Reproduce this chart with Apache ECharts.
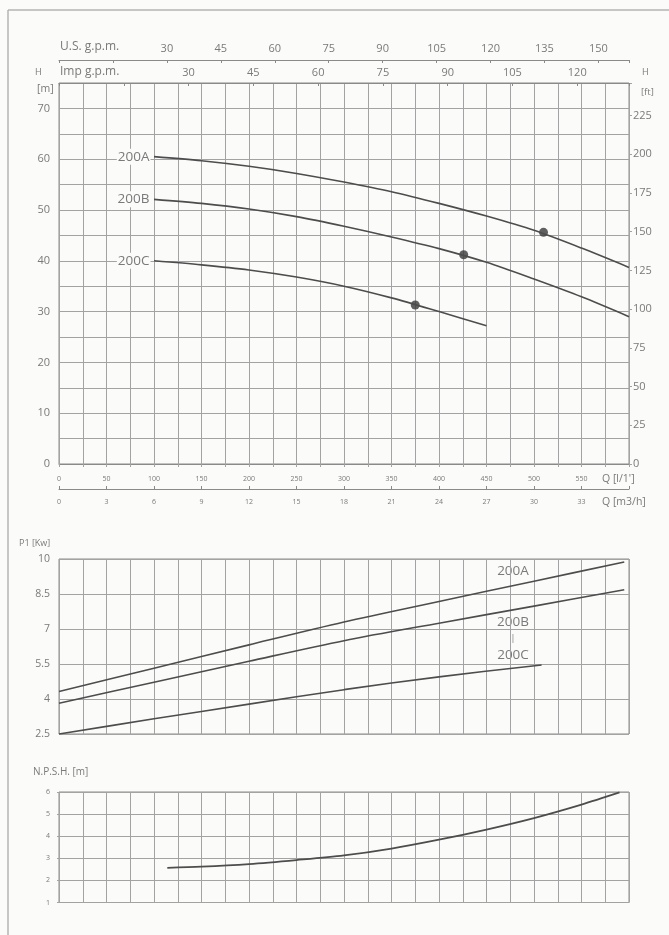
<!DOCTYPE html>
<html>
<head>
<meta charset="utf-8">
<script src="https://cdn.jsdelivr.net/npm/echarts@6/dist/echarts.min.js"></script>
<style>
  html, body { margin: 0; padding: 0; background: #fbfbfa; }
  #chart { width: 669px; height: 935px; }
</style>
</head>
<body>
<div id="chart"></div>
<script>
// Pump performance curves, models 200A / 200B / 200C
// Flow Q in l/min, head H in m, absorbed power P1 in kW, NPSH in m.

const models = ['200A', '200B', '200C'];

// Head curves [Q l/min, H m]
const head200A = [[100, 60.5], [150, 59.7], [200, 58.6], [250, 57.2], [300, 55.5], [350, 53.6], [400, 51.3], [450, 48.8], [500, 46.0], [550, 42.5], [600, 38.7]];
const head200B = [[100, 52.1], [150, 51.3], [200, 50.2], [250, 48.7], [300, 46.8], [350, 44.7], [400, 42.4], [450, 39.7], [500, 36.4], [550, 32.9], [600, 29.0]];
const head200C = [[100, 40.0], [150, 39.2], [200, 38.2], [250, 36.8], [300, 35.0], [350, 32.7], [400, 30.0], [450, 27.2]];

// Rated duty points [Q l/min, H m]
const dutyPoints = [[510, 45.6], [426, 41.2], [375, 31.3]];

// Absorbed power [Q l/min, P1 kW]
const power200A = [[0, 4.32], [100, 5.32], [200, 6.32], [300, 7.3], [400, 8.18], [500, 9.05], [595, 9.87]];
const power200B = [[0, 3.82], [100, 4.72], [200, 5.62], [300, 6.5], [400, 7.25], [500, 7.98], [595, 8.68]];
const power200C = [[0, 2.5], [100, 3.15], [200, 3.78], [300, 4.4], [400, 4.95], [508, 5.46]];

// Required NPSH [Q l/min, m]
const npsh = [[114, 2.57], [150, 2.62], [200, 2.74], [250, 2.92], [300, 3.13], [350, 3.44], [400, 3.84], [450, 4.3], [500, 4.82], [550, 5.43], [590, 5.98]];

// Axis scales
const qMax = 600;               // l/min
const hMax = 75;                // m
const M_TO_FT = 3.28084;
const L_PER_USGAL = 3.785411784;
const L_PER_IMPGAL = 4.54609;
const p1Ticks = [2.5, 4, 5.5, 7, 8.5, 10];

const FONT = 'Open Sans';
const TXT = '#7a7a7a';
const GRID = '#a3a3a3';
const CURVE = '#4d4d4d';
const BG = '#fbfbfa';

const chart = echarts.init(document.getElementById('chart'));

const gridLine = { show: true, lineStyle: { color: GRID, width: 1 } };
const noLine = { show: false, onZero: false };
const lbl = (size, fmt, extra) => Object.assign({ color: TXT, fontFamily: FONT, fontSize: size, formatter: fmt }, extra || {});

function curve(name, data, xi, yi, width) {
  return {
    type: 'line', name: name, xAxisIndex: xi, yAxisIndex: yi, data: data,
    smooth: 0.3, symbol: 'none', silent: true,
    lineStyle: { color: CURVE, width: width || 1.6 }
  };
}

// Head curve with its model name written left of its first point
function headCurve(name, data) {
  const s = curve(name, data, 0, 0);
  s.markPoint = {
    silent: true,
    data: [{
      coord: data[0], symbol: 'circle', symbolSize: 1,
      itemStyle: { color: 'rgba(0,0,0,0)' },
      label: {
        show: true, position: 'left', distance: 3, formatter: name,
        color: TXT, fontFamily: FONT, fontSize: 13.5, backgroundColor: BG, padding: [1, 1]
      }
    }]
  };
  return s;
}

const txt = (x, y, text, size, extra) => ({
  type: 'text', x: x, y: y, silent: true,
  style: Object.assign({ text: text, fill: TXT, font: size + 'px "Open Sans"', verticalAlign: 'middle' }, extra || {})
});

const option = {
  backgroundColor: BG,
  animation: false,
  grid: [
    { left: 59, right: 40, top: 83, height: 381, show: true, borderColor: '#8a8a8a', borderWidth: 1 },
    { left: 59, right: 40, top: 559, height: 175, show: true, borderColor: '#8a8a8a', borderWidth: 1 },
    { left: 59, right: 40, top: 792, height: 110.5, show: true, borderColor: '#8a8a8a', borderWidth: 1 }
  ],
  xAxis: [
    // 0: Q l/min (bottom of head chart)
    { type: 'value', gridIndex: 0, position: 'bottom', min: 0, max: qMax, interval: 25,
      axisLine: { show: true, onZero: false, lineStyle: { color: '#8a8a8a' } },
      axisTick: { show: true, length: 3, lineStyle: { color: GRID } },
      splitLine: gridLine,
      axisLabel: lbl(7, v => (v % 50 === 0 && v <= 550) ? String(v) : '', { margin: 11 }) },
    // 1: Q m3/h
    { type: 'value', gridIndex: 0, position: 'bottom', offset: 25, min: 0, max: qMax * 60 / 1000, interval: 3,
      axisLine: { show: true, onZero: false, lineStyle: { color: '#8a8a8a' } },
      axisTick: { show: true, length: 3, inside: true, lineStyle: { color: '#8a8a8a' } },
      splitLine: noLine,
      axisLabel: lbl(7, v => (v % 3 === 0 && v <= 33) ? String(v) : '', { margin: 9 }) },
    // 2: U.S. g.p.m.
    { type: 'value', gridIndex: 0, position: 'top', offset: 23, min: 0, max: qMax / L_PER_USGAL, interval: 15,
      axisLine: { show: true, onZero: false, lineStyle: { color: '#8a8a8a' } },
      axisTick: { show: true, length: 3, inside: true, lineStyle: { color: '#8a8a8a' } },
      splitLine: noLine,
      axisLabel: lbl(11, v => (v % 15 === 0 && v >= 30) ? String(v) : '', { margin: 6 }) },
    // 3: Imp g.p.m.
    { type: 'value', gridIndex: 0, position: 'top', offset: 0, min: 0, max: qMax / L_PER_IMPGAL, interval: 15,
      axisLine: { show: true, onZero: false, lineStyle: { color: '#8a8a8a' } },
      axisTick: { show: true, length: 3, inside: true, lineStyle: { color: '#8a8a8a' } },
      splitLine: noLine,
      axisLabel: lbl(11, v => (v % 15 === 0 && v >= 30) ? String(v) : '', { margin: 5 }) },
    // 4: Q l/min for power chart
    { type: 'value', gridIndex: 1, min: 0, max: qMax, interval: 25,
      axisLine: noLine, axisTick: { show: false }, axisLabel: { show: false }, splitLine: gridLine },
    // 5: Q l/min for NPSH chart
    { type: 'value', gridIndex: 2, min: 0, max: qMax, interval: 25,
      axisLine: noLine, axisTick: { show: false }, axisLabel: { show: false }, splitLine: gridLine }
  ],
  yAxis: [
    // 0: H [m]
    { type: 'value', gridIndex: 0, position: 'left', min: 0, max: hMax, interval: 5,
      axisLine: noLine, axisTick: { show: false }, splitLine: gridLine,
      axisLabel: lbl(11, v => (v % 10 === 0 && v <= 70) ? String(v) : '', { margin: 9, padding: [0, 0, 7, 0] }) },
    // 1: H [ft]
    { type: 'value', gridIndex: 0, position: 'right', min: 0, max: hMax * M_TO_FT, interval: 25,
      axisLine: noLine, axisTick: { show: true, length: 3, lineStyle: { color: GRID } }, splitLine: { show: false },
      axisLabel: lbl(11, v => (v % 25 === 0 && v <= 225) ? String(v) : '', { margin: 4, padding: [0, 0, 7, 0] }) },
    // 2: P1 [kW]
    { type: 'value', gridIndex: 1, min: p1Ticks[0], max: p1Ticks[p1Ticks.length - 1],
      axisLine: noLine,
      axisTick: { show: false, customValues: p1Ticks },
      splitLine: gridLine,
      axisLabel: lbl(10.5, v => String(v), { margin: 9, customValues: p1Ticks }) },
    // 3: NPSH [m]
    { type: 'value', gridIndex: 2, min: 1, max: 6, interval: 1,
      axisLine: noLine,
      axisTick: { show: true, length: 2, lineStyle: { color: GRID } },
      splitLine: gridLine,
      axisLabel: lbl(7, v => String(v), { margin: 9 }) }
  ],
  series: [
    headCurve(models[0], head200A),
    headCurve(models[1], head200B),
    headCurve(models[2], head200C),
    { type: 'scatter', name: 'duty', xAxisIndex: 0, yAxisIndex: 0, data: dutyPoints,
      symbolSize: 9, silent: true, itemStyle: { color: '#3a3a3a' } },
    curve(models[0], power200A, 4, 2),
    curve(models[1], power200B, 4, 2),
    curve(models[2], power200C, 4, 2),
    curve('NPSH', npsh, 5, 3, 1.8)
  ],
  graphic: [
    // page frame
    { type: 'line', shape: { x1: 8, y1: 10, x2: 669, y2: 10 }, style: { stroke: '#b5b5b5', lineWidth: 1.5 }, silent: true },
    { type: 'line', shape: { x1: 8, y1: 10, x2: 8, y2: 935 }, style: { stroke: '#b5b5b5', lineWidth: 1.5 }, silent: true },
    // head chart captions
    txt(60, 47, 'U.S. g.p.m.', 12),
    txt(60, 72, 'Imp g.p.m.', 12),
    txt(35, 72, 'H', 9),
    txt(37, 89, '[m]', 10.5),
    txt(642, 72, 'H', 9),
    txt(641, 92, '[ft]', 9.5),
    txt(602, 479, "Q [l/1']", 10.5),
    txt(602, 502, 'Q [m3/h]', 10.5),
    // power chart captions
    txt(19, 543, 'P1 [Kw]', 9),
    txt(513, 571, models[0], 13.5, { align: 'center', backgroundColor: BG, padding: [0, 2] }),
    txt(513, 622, models[1], 13.5, { align: 'center', backgroundColor: BG, padding: [0, 2] }),
    txt(513, 638, '|', 9, { align: 'center' }),
    txt(513, 655, models[2], 13.5, { align: 'center', backgroundColor: BG, padding: [0, 2] }),
    // NPSH caption
    txt(33, 772, 'N.P.S.H. [m]', 10)
  ]
};

chart.setOption(option);
</script>
</body>
</html>
